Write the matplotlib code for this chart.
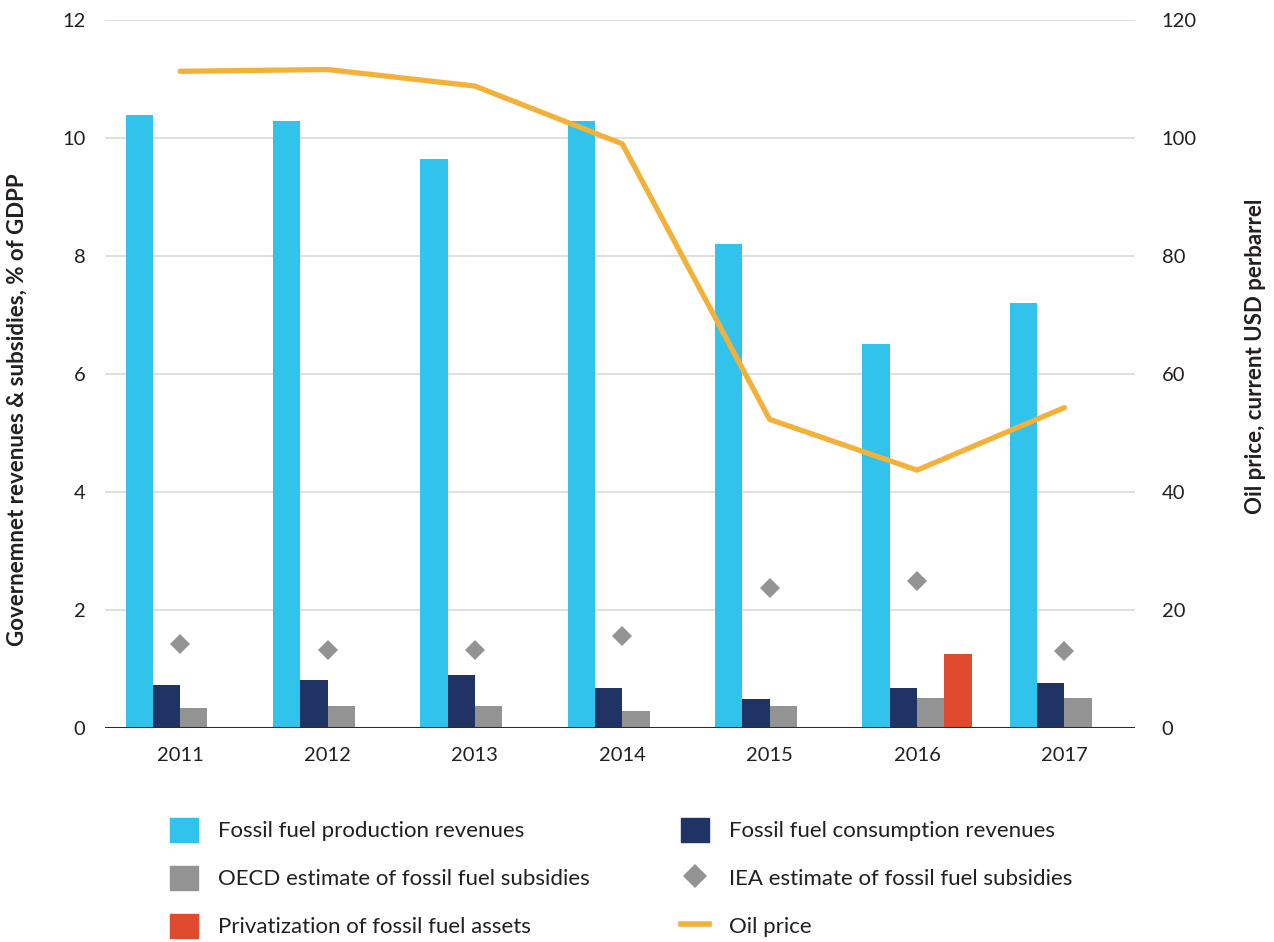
"""Fossil fuel revenues and subsidies vs oil price, 2011-2017."""

import matplotlib

matplotlib.use("Agg")
import matplotlib.pyplot as plt
import numpy as np
from matplotlib.lines import Line2D
from matplotlib.patches import Patch

plt.rcParams["font.family"] = ["Lato", "DejaVu Sans"]

YEARS = ["2011", "2012", "2013", "2014", "2015", "2016", "2017"]
PRODUCTION = [10.39, 10.29, 9.64, 10.29, 8.2, 6.51, 7.2]
CONSUMPTION = [0.73, 0.81, 0.9, 0.68, 0.49, 0.68, 0.76]
OECD = [0.34, 0.37, 0.38, 0.29, 0.38, 0.51, 0.51]
PRIVATIZATION = [0, 0, 0, 0, 0, 1.25, 0]
IEA = [1.42, 1.33, 1.32, 1.56, 2.38, 2.49, 1.31]
OIL_PRICE = [111.3, 111.6, 108.8, 99.0, 52.3, 43.7, 54.3]

C_PROD = "#31c3ec"
C_CONS = "#1f3464"
C_OECD = "#939393"
C_PRIV = "#e04a2e"
C_OIL = "#f4b13a"
C_TEXT = "#231f20"

fig = plt.figure(figsize=(12.74, 9.42), dpi=100)
ax = fig.add_axes([0.0824, 0.2272, 0.8086, 0.7516])
ax2 = ax.twinx()

x = np.arange(len(YEARS))
w = 0.185
ax.bar(x - 1.5 * w, PRODUCTION, w, color=C_PROD, zorder=3)
ax.bar(x - 0.5 * w, CONSUMPTION, w, color=C_CONS, zorder=3)
ax.bar(x + 0.5 * w, OECD, w, color=C_OECD, zorder=3)
ax.bar(x + 1.5 * w, PRIVATIZATION, w, color=C_PRIV, zorder=3)
ax.plot(x, IEA, "D", color=C_OECD, markersize=10, markeredgewidth=0, zorder=4)

ax2.plot(x, OIL_PRICE, color=C_OIL, linewidth=3.8, solid_capstyle="round",
         solid_joinstyle="miter", zorder=5)

ax.set_xlim(-0.51, 6.48)
ax.set_ylim(0, 12)
ax2.set_ylim(0, 120)
ax.set_yticks(range(0, 13, 2))
ax2.set_yticks(range(0, 121, 20))
ax.set_xticks(x)
ax.set_xticklabels(YEARS)

ax.grid(axis="y", color="#d9d9d9", linewidth=1.2, zorder=0)
ax.set_axisbelow(True)
for a in (ax, ax2):
    for side in ("top", "left", "right", "bottom"):
        a.spines[side].set_visible(False)
    a.tick_params(length=0, labelsize=14.5, colors=C_TEXT)
ax.axhline(0, color="#2b2b2b", linewidth=2.2, zorder=6)
ax.tick_params(axis="x", pad=14)
ax.tick_params(axis="y", pad=14)
ax2.tick_params(axis="y", pad=19)

ax.set_ylabel("Governemnet revenues & subsidies, % of GDPP", fontsize=16,
              fontweight="bold", color=C_TEXT)
ax2.set_ylabel("Oil price, current USD perbarrel", fontsize=16,
               fontweight="bold", color=C_TEXT)
ax.yaxis.set_label_coords(-0.075, 0.45)
ax2.yaxis.set_label_coords(1.107, 0.525)

# legend, filled column-wise to read row-wise
handles = [
    Patch(color=C_PROD, label="Fossil fuel production revenues"),
    Patch(color=C_OECD, label="OECD estimate of fossil fuel subsidies"),
    Patch(color=C_PRIV, label="Privatization of fossil fuel assets"),
    Patch(color=C_CONS, label="Fossil fuel consumption revenues"),
    Line2D([], [], marker="D", linestyle="none", color=C_OECD, markersize=12,
           markeredgewidth=0, label="IEA estimate of fossil fuel subsidies"),
    Line2D([], [], color=C_OIL, linewidth=4, label="Oil price"),
]
fig.legend(handles=handles, ncol=2, loc="upper left",
           bbox_to_anchor=(0.1334, 0.1316), bbox_transform=fig.transFigure,
           frameon=False, fontsize=16, handlelength=1.26, handleheight=1.26,
           handletextpad=0.9, labelspacing=1.1, columnspacing=4.1,
           labelcolor=C_TEXT, borderaxespad=0, borderpad=0)

fig.savefig("out.png", dpi=100)
